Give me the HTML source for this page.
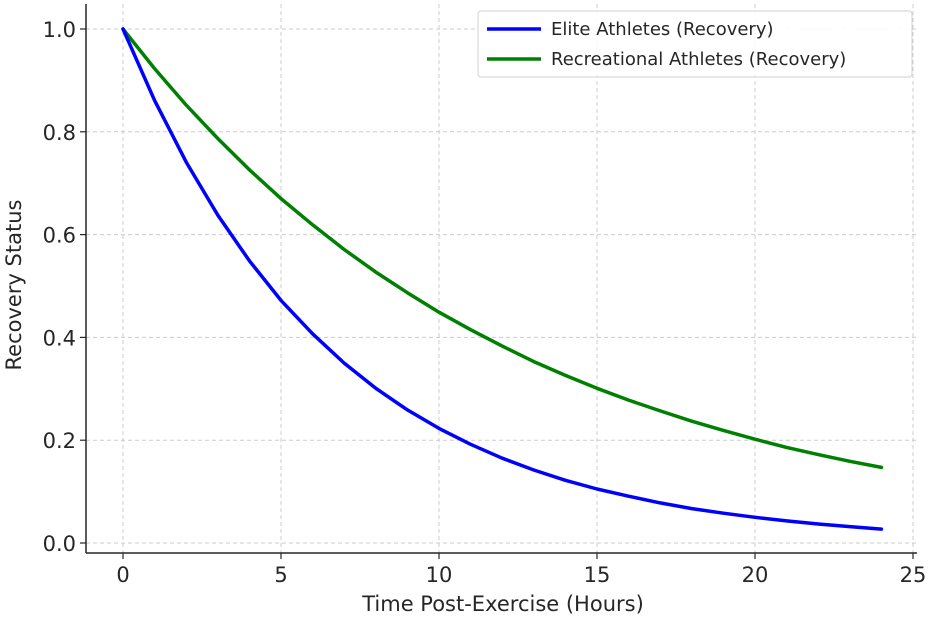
<!DOCTYPE html>
<html><head><meta charset="utf-8"><style>
body{margin:0;background:#fff}
svg text{font-family:"DejaVu Sans","Liberation Sans",sans-serif;fill:#262626}
</style></head><body>
<svg id="chart" width="931" height="617" xmlns="http://www.w3.org/2000/svg">
<g id="grid"></g>
<g id="axes"></g>
<g id="series"></g>
<text x="503" y="611" text-anchor="middle" font-size="21">Time Post-Exercise (Hours)</text>
<text transform="translate(21,285) rotate(-90)" text-anchor="middle" font-size="21">Recovery Status</text>
<g>
<rect x="478" y="11" width="434" height="66" rx="3" fill="#fff" fill-opacity="0.9" stroke="#d0d0d0"/>
<line x1="487" y1="29" x2="541" y2="29" stroke="#0000ff" stroke-width="3.5"/>
<text x="551" y="35" font-size="18">Elite Athletes (Recovery)</text>
<line x1="487" y1="59" x2="541" y2="59" stroke="#008000" stroke-width="3.5"/>
<text x="551" y="65" font-size="18">Recreational Athletes (Recovery)</text>
</g>
</svg>
<script>
const hours=[0,1,2,3,4,5,6,7,8,9,10,11,12,13,14,15,16,17,18,19,20,21,22,23,24];
const eliteValues=[1.000,0.861,0.741,0.638,0.549,0.472,0.407,0.350,0.301,0.259,0.223,0.192,0.165,0.142,0.122,0.105,0.091,0.078,0.067,0.058,0.050,0.043,0.037,0.032,0.027];
const recreationalValues=[1.000,0.923,0.852,0.787,0.726,0.670,0.619,0.571,0.527,0.487,0.449,0.415,0.383,0.353,0.326,0.301,0.278,0.257,0.237,0.219,0.202,0.186,0.172,0.159,0.147];
const xTicks=[0,5,10,15,20,25];
const yTicks=[0.0,0.2,0.4,0.6,0.8,1.0];
const NS="http://www.w3.org/2000/svg";
const X0=123,X25=913,Y0=543,Y1=29;
function xs(v){return X0+(X25-X0)*v/25;}
function ys(v){return Y0-(Y0-Y1)*v;}
function mk(tag,attrs,parent){const e=document.createElementNS(NS,tag);for(const k in attrs)e.setAttribute(k,attrs[k]);parent.appendChild(e);return e;}
const gridG=document.getElementById('grid'),axesG=document.getElementById('axes'),seriesG=document.getElementById('series');
const plotLeft=86,plotRight=917,plotTop=4,plotBottom=553;
xTicks.forEach(t=>{
  const g=mk('line',{x1:xs(t),x2:xs(t),y1:plotTop,y2:plotBottom,stroke:'#cccccc','stroke-dasharray':'4,3','stroke-width':1},gridG);
  
  
  const tk=mk('line',{x1:xs(t),x2:xs(t),y1:plotBottom,y2:plotBottom+6,stroke:'#262626','stroke-width':1.2},axesG);
  
  
  const tx=mk('text',{x:xs(t),y:plotBottom+29,'text-anchor':'middle','font-size':21},axesG);
  tx.textContent=t;
  
  
});
yTicks.forEach(t=>{
  const g=mk('line',{x1:plotLeft,x2:plotRight,y1:ys(t),y2:ys(t),stroke:'#cccccc','stroke-dasharray':'4,3','stroke-width':1},gridG);
  
  
  const tk=mk('line',{x1:plotLeft-6,x2:plotLeft,y1:ys(t),y2:ys(t),stroke:'#262626','stroke-width':1.2},axesG);
  
  
  const tx=mk('text',{x:plotLeft-10,y:ys(t)+8,'text-anchor':'end','font-size':21},axesG);
  tx.textContent=t.toFixed(1);
  
  
});
const ya=mk('line',{x1:plotLeft,x2:plotLeft,y1:plotTop,y2:plotBottom,stroke:'#262626','stroke-width':1.5},axesG);


const xa=mk('line',{x1:plotLeft,x2:plotRight,y1:plotBottom,y2:plotBottom,stroke:'#262626','stroke-width':1.5},axesG);


function drawLine(vals,color,name){
  const d=vals.map((v,i)=>(i?'L':'M')+xs(hours[i]).toFixed(1)+','+ys(v).toFixed(1)).join(' ');
  const p=mk('path',{d:d,fill:'none',stroke:color,'stroke-width':3.5,'stroke-linejoin':'round','stroke-linecap':'round'},seriesG);
  
  
}
drawLine(recreationalValues,'#008000','recreational-line');
drawLine(eliteValues,'#0000ff','elite-line');
</script>
</body></html>
